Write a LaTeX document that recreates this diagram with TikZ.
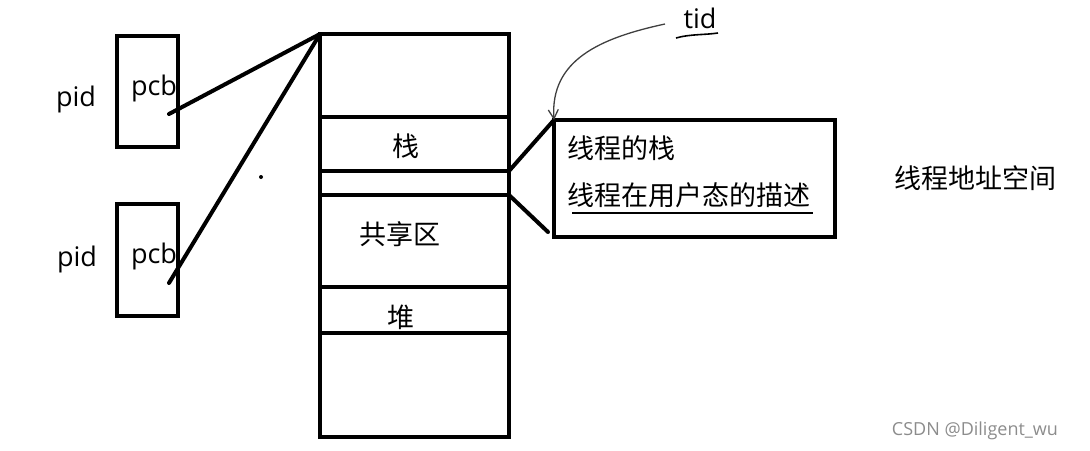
\documentclass[tikz,border=0pt]{standalone}
\usepackage{fontspec}
\setmainfont{Open Sans}
\newfontfamily\cjk{Noto Sans CJK SC}
\usetikzlibrary{arrows.meta}

\begin{document}
\begin{tikzpicture}[x=1pt,y=-1pt,
  every node/.style={font=\fontsize{27}{30}\selectfont},
  blk/.style={draw,line width=4pt,inner sep=0pt,outer sep=0pt},
  seg/.style={blk,minimum width=189pt},
  link/.style={line width=4pt,line cap=round},
  han/.style={font=\fontsize{27}{30}\selectfont\cjk},
  txt/.style={han,inner sep=0pt,anchor=west}]
\useasboundingbox (0,0) rectangle (1090,450);

% process side
\node[blk,minimum width=61pt,minimum height=111pt] (pcbA) at (147.5,91.5) {};
\node[blk,minimum width=61pt,minimum height=112pt] (pcbB) at (147.5,260) {};
\node (pidA) at (76,99) {pid};
\node (pidB) at (77,259) {pid};
\node (lpA) at (154,88) {pcb};
\node (lpB) at (154,256) {pcb};
\coordinate (pA) at (169,114);
\coordinate (pB) at (169,283);
\fill (261,177) circle (2pt);

% address space, top to bottom
\node[seg,minimum height=83pt]  (mtop)   at (414.5,75.5) {};
\node[seg,minimum height=54pt]  (stack)  at (414.5,144) {};
\node[seg,minimum height=24pt]  (gap)    at (414.5,183) {};
\node[seg,minimum height=92pt]  (shared) at (414.5,241) {};
\node[seg,minimum height=46pt]  (heap)   at (414.5,310) {};
\node[seg,minimum height=104pt] (mbot)   at (414.5,385) {};
\node[han] (lstack)  at (406,146) {栈};
\node[han] (lshared) at (400,234) {共享区};
\node[han] (lheap)   at (401,317) {堆};

\foreach \p in {pA,pB} \draw[link] (\p) -- (mtop.north west);

% thread
\node[blk,minimum width=281pt,minimum height=117pt] (thr) at (694.5,178.5) {};
\node[txt] (tstack) at (567,148) {线程的栈};
\node[txt] (tdesc)  at (567,195) {线程在用户态的描述};
\draw[line width=1.4pt] (572,213) -- (813,213);
\coordinate (tlow) at (548,232);
\draw[link] (gap.north east) -- (thr.north west);
\draw[link] (gap.south east) -- (tlow);

\node[han] (tspace) at (975,178) {线程地址空间};

\node (tid) at (700,18) {tid};
\draw[line width=1.6pt] (676,38) .. controls (690,34) and (705,35) .. (718,33);
\draw[black!75,line width=1.3pt,-{Straight Barb[length=9pt,width=10pt]}]
  (665,24) .. controls (600,38) and (550,60) .. (thr.north west);

\node[text=black!45,font=\fontsize{18}{20}\selectfont] (mark) at (975,431) {CSDN @Diligent\_wu};
\end{tikzpicture}
\end{document}
